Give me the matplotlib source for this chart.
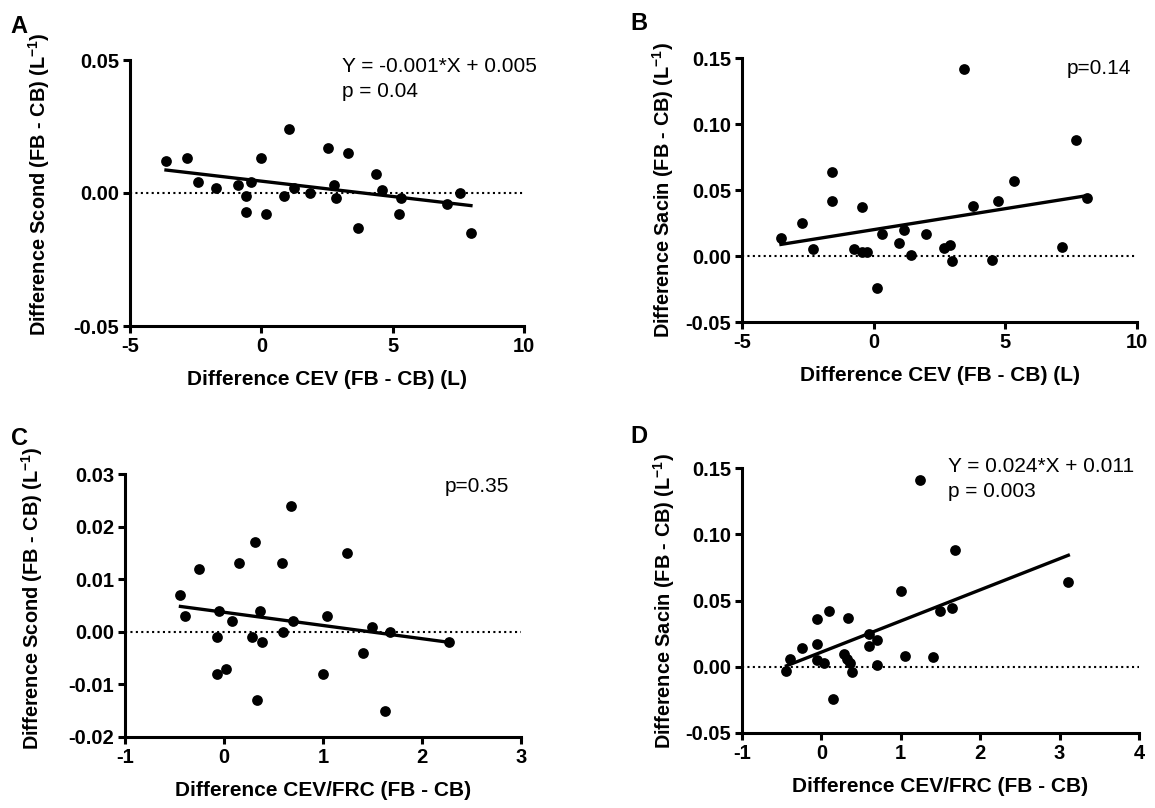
import numpy as np
import matplotlib
matplotlib.use("Agg")
import matplotlib.pyplot as plt

plt.rcParams['font.family'] = ['Liberation Sans', 'DejaVu Sans']
plt.rcParams['axes.unicode_minus'] = False
plt.rcParams['mathtext.fontset'] = 'custom'
plt.rcParams['mathtext.rm'] = 'Liberation Sans'
plt.rcParams['mathtext.bf'] = 'Liberation Sans:bold'

# panel A: difference CEV (L) vs difference Scond
cev_a = [-3.63, -2.84, -2.42, -1.73, -0.88, -0.39, -0.58, -0.58, -0.01, 0.16, 0.85, 1.04, 1.26,
         1.85, 2.54, 2.78, 2.86, 3.31, 3.67, 4.38, 4.59, 5.30, 5.24, 7.06, 7.58, 7.98]
scond_a = [0.012, 0.013, 0.004, 0.002, 0.003, 0.004, -0.001, -0.007, 0.013, -0.008, -0.001, 0.024, 0.002,
           0.000, 0.017, 0.003, -0.002, 0.015, -0.013, 0.007, 0.001, -0.002, -0.008, -0.004, 0.000, -0.015]

# panel B: difference CEV (L) vs difference Sacin
cev_b = [-3.52, -2.72, -2.30, -1.60, -1.60, -0.76, -0.44, -0.44, -0.25, 0.11, 0.30, 0.98, 1.17,
         1.40, 1.97, 2.68, 2.89, 2.97, 3.44, 3.78, 4.49, 4.71, 5.32, 7.17, 7.69, 8.11]
sacin_b = [0.014, 0.025, 0.005, 0.064, 0.042, 0.005, 0.037, 0.003, 0.003, -0.024, 0.017, 0.010, 0.020,
           0.001, 0.017, 0.006, 0.008, -0.004, 0.142, 0.038, -0.003, 0.042, 0.057, 0.007, 0.088, 0.044]

# panel C: difference CEV/FRC vs difference Scond
ratio_c = [-0.44, -0.39, -0.25, -0.05, -0.07, -0.07, 0.02, 0.08, 0.15, 0.31, 0.28, 0.36, 0.38,
           0.33, 0.59, 0.60, 0.68, 0.70, 1.00, 1.04, 1.24, 1.40, 1.49, 1.63, 1.68, 2.27]
scond_c = [0.007, 0.003, 0.012, 0.004, -0.001, -0.008, -0.007, 0.002, 0.013, 0.017, -0.001, 0.004, -0.002,
           -0.013, 0.013, 0.000, 0.024, 0.002, -0.008, 0.003, 0.015, -0.004, 0.001, -0.015, 0.000, -0.002]

# panel D: difference CEV/FRC vs difference Sacin
ratio_d = [-0.44, -0.39, -0.24, -0.06, -0.06, -0.06, 0.03, 0.09, 0.15, 0.28, 0.34, 0.32, 0.36,
           0.38, 0.60, 0.60, 0.70, 0.70, 1.00, 1.05, 1.24, 1.40, 1.49, 1.64, 1.68, 3.11]
sacin_d = [-0.003, 0.006, 0.014, 0.036, 0.017, 0.005, 0.003, 0.042, -0.024, 0.010, 0.037, 0.006, 0.003,
           -0.004, 0.025, 0.016, 0.020, 0.001, 0.057, 0.008, 0.141, 0.007, 0.042, 0.044, 0.088, 0.064]

W, H = 1155, 808
fig = plt.figure(figsize=(W / 100, H / 100), dpi=100)


def box(l, r, t, b):
    return [l / W, 1 - b / H, (r - l) / W, (b - t) / H]


def panel(rect, x, y, xlim, xstep, ylim, ystep, xlabel, ylabel, ylab_xy, letter, letter_xy, notes, note_xy):
    ax = fig.add_axes(rect)
    ax.axhline(0, color='black', ls=(0, (1, 1.6)), lw=1.5, zorder=1)
    ax.scatter(x, y, s=60, color='black', linewidths=0, zorder=3)
    k, c = np.polyfit(x, y, 1)
    xs = np.array([min(x), max(x)])
    ax.plot(xs, k * xs + c, color='black', lw=2.4, zorder=2)
    ax.set_xlim(*xlim)
    ax.set_ylim(*ylim)
    ax.set_xticks(np.arange(xlim[0], xlim[1] + xstep / 2, xstep))
    ax.set_yticks(np.arange(ylim[0], ylim[1] + ystep / 2, ystep))
    ax.xaxis.set_major_formatter(matplotlib.ticker.FormatStrFormatter('%g'))
    ax.yaxis.set_major_formatter(matplotlib.ticker.FormatStrFormatter('%.2f'))
    for s in ['top', 'right']:
        ax.spines[s].set_visible(False)
    for s in ['left', 'bottom']:
        ax.spines[s].set_linewidth(2.2)
    ax.tick_params(width=2.2, length=5, pad=3, labelsize=14.5)
    for t in ax.get_xticklabels() + ax.get_yticklabels():
        t.set_fontweight('bold')
    ax.set_xlabel(xlabel, fontsize=15, fontweight='bold', labelpad=10)
    ax.set_ylabel(ylabel, fontsize=14.3, fontweight='bold')
    # label anchor given in figure pixels (right edge, vertical centre)
    bl = rect[0] * W
    bw = rect[2] * W
    bb = (1 - rect[1]) * H
    bh = rect[3] * H
    ax.yaxis.set_label_coords((ylab_xy[0] - bl) / bw, (bb - ylab_xy[1]) / bh)
    fig.text(letter_xy[0] / W, 1 - letter_xy[1] / H, letter, fontsize=17, fontweight='bold',
             ha='left', va='baseline')
    for i, line in enumerate(notes):
        fig.text(note_xy[0] / W, 1 - (note_xy[1] + 25 * i) / H, line, fontsize=15,
                 ha='left', va='baseline')
    return ax


scond_lab = r'Difference Scond (FB - CB) (L$^{\mathbf{-1}}$)'
sacin_lab = r'Difference Sacin (FB - CB) (L$^{\mathbf{-1}}$)'

panel(box(130, 524, 60, 326), cev_a, scond_a, (-5, 10), 5, (-0.05, 0.05), 0.05,
      'Difference CEV (FB - CB) (L)', scond_lab, (52, 184),
      'A', (10, 33), ['Y = -0.001*X + 0.005', 'p = 0.04'], (342, 72))

panel(box(742, 1137, 58, 322), cev_b, sacin_b, (-5, 10), 5, (-0.05, 0.15), 0.05,
      'Difference CEV (FB - CB) (L)', sacin_lab, (676, 190),
      'B', (630, 30), ['p=0.14'], (1067, 74))

panel(box(125, 521, 474, 737), ratio_c, scond_c, (-1, 3), 1, (-0.02, 0.03), 0.01,
      'Difference CEV/FRC (FB - CB)', scond_lab, (45, 598),
      'C', (11, 445), ['p=0.35'], (445, 492))

panel(box(742, 1139, 468, 733), ratio_d, sacin_d, (-1, 4), 1, (-0.05, 0.15), 0.05,
      'Difference CEV/FRC (FB - CB)', sacin_lab, (677, 601),
      'D', (630, 443), ['Y = 0.024*X + 0.011', 'p = 0.003'], (948, 472))

fig.savefig('out.png', dpi=100)
